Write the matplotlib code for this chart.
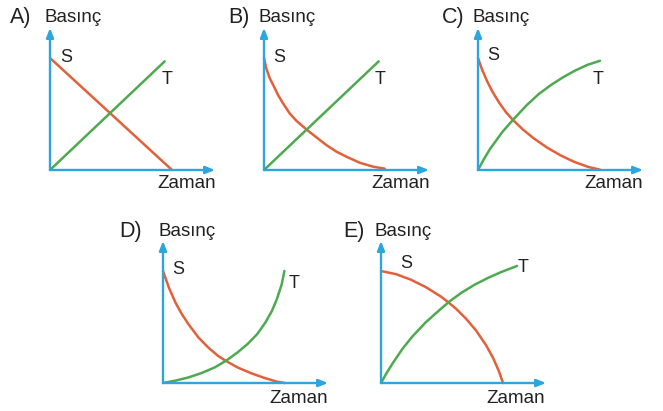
import matplotlib
matplotlib.use("Agg")
import matplotlib.pyplot as plt

plt.rcParams['font.family'] = ['Liberation Sans', 'DejaVu Sans']

# ---- data (time, pressure); unit = end of curves ----
panels = ["A)", "B)", "C)", "D)", "E)"]
y_label = "Basınç"
x_label = "Zaman"
gas_labels = ["S", "T"]

A_S_t = [0.0, 1.0]
A_S_p = [1.0, 0.0]
A_T_t = [0.0, 0.94]
A_T_p = [0.0, 0.97]

B_S_t = [0.0, 0.019, 0.046, 0.074, 0.115, 0.156, 0.210, 0.265, 0.347, 0.429,
         0.511, 0.593, 0.675, 0.784, 0.893, 0.99]
B_S_p = [1.0, 0.908, 0.821, 0.762, 0.670, 0.595, 0.506, 0.440, 0.363, 0.292,
         0.223, 0.164, 0.119, 0.065, 0.030, 0.012]
B_T_t = [0.0, 0.94]
B_T_p = [0.0, 0.97]

C_S_t = [0.0, 0.034, 0.076, 0.118, 0.174, 0.230, 0.286, 0.370, 0.454, 0.566,
         0.678, 0.790, 0.902, 1.0]
C_S_p = [1.0, 0.895, 0.790, 0.700, 0.600, 0.515, 0.447, 0.360, 0.285, 0.200,
         0.130, 0.072, 0.028, 0.003]
C_T_t = [0.0, 0.05, 0.1, 0.2, 0.286, 0.4, 0.5, 0.6, 0.7, 0.8, 0.9, 1.0]
C_T_p = [0.0, 0.10, 0.19, 0.34, 0.447, 0.58, 0.68, 0.76, 0.83, 0.89, 0.94, 0.975]

D_S_t = [0.0, 0.048, 0.102, 0.155, 0.209, 0.290, 0.370, 0.450, 0.517, 0.611,
         0.718, 0.826, 0.933, 1.0]
D_S_p = [1.0, 0.852, 0.718, 0.614, 0.525, 0.407, 0.318, 0.243, 0.196, 0.139,
         0.089, 0.047, 0.012, 0.0]
D_T_t = [0.0, 0.102, 0.209, 0.316, 0.424, 0.517, 0.611, 0.692, 0.772, 0.839,
         0.893, 0.933, 0.973, 0.995]
D_T_p = [0.0, 0.021, 0.050, 0.089, 0.139, 0.199, 0.273, 0.347, 0.436, 0.540,
         0.644, 0.748, 0.881, 1.0]

E_S_t = [0.0, 0.123, 0.246, 0.369, 0.492, 0.549, 0.615, 0.697, 0.779, 0.861,
         0.918, 0.967, 1.0]
E_S_p = [1.0, 0.972, 0.922, 0.855, 0.771, 0.723, 0.663, 0.574, 0.469, 0.338,
         0.225, 0.104, 0.0]
E_T_t = [0.0, 0.041, 0.095, 0.176, 0.257, 0.365, 0.473, 0.555, 0.662, 0.770,
         0.878, 0.986, 1.115]
E_T_p = [0.0, 0.080, 0.175, 0.305, 0.415, 0.540, 0.645, 0.723, 0.808, 0.879,
         0.939, 0.991, 1.045]

S_series = [(A_S_t, A_S_p), (B_S_t, B_S_p), (C_S_t, C_S_p), (D_S_t, D_S_p), (E_S_t, E_S_p)]
T_series = [(A_T_t, A_T_p), (B_T_t, B_T_p), (C_T_t, C_T_p), (D_T_t, D_T_p), (E_T_t, E_T_p)]

# ---- layout (pixels) ----
W, H = 663, 411
origins = [(50, 170), (264, 170), (478, 170), (163, 383), (381, 383)]
ax_w, ax_h = 165, 142
unit_x, unit_y = 122.0, 112.0
# label offsets in pixels relative to origin
letter_off = [(-40, 152), (-36, 152), (-36, 152), (-44, 152), (-38, 152)]
basinc_off = [(-6, 152), (-5, 152), (-5, 152), (-4, 152), (-6, 152)]
S_off = [(16, 113), (15, 113), (15, 114), (15, 114), (25, 120)]
T_off = [(117, 90), (116, 90), (120, 90), (131, 100), (142, 116)]
zaman_off = [(166, -14), (166, -14), (165, -14), (165, -15), (164, -15)]

BLUE = "#2BA6DE"
ORANGE = "#E2603A"
GREEN = "#4DAA50"

fig = plt.figure(figsize=(W / 100, H / 100), dpi=100)
fig.patch.set_facecolor("white")

for i in range(5):
    ox, oy = origins[i]
    ax = fig.add_axes([ox / W, 1 - oy / H, ax_w / W, ax_h / H])
    ax.set_xlim(0, ax_w / unit_x)
    ax.set_ylim(0, ax_h / unit_y)
    ax.axis("off")
    # axes arrows
    for tip in [(1.0, 0), (0, 1.0)]:
        ax.annotate("", xy=tip, xytext=(0, 0), xycoords="axes fraction",
                    arrowprops=dict(arrowstyle="-|>,head_length=0.55,head_width=0.22",
                                    color=BLUE, lw=1.7, shrinkA=0, shrinkB=0))
    st, sp = S_series[i]
    tt, tp = T_series[i]
    ax.plot(st, sp, color=ORANGE, lw=1.8, clip_on=False, solid_capstyle="round",
            solid_joinstyle="round")
    ax.plot(tt, tp, color=GREEN, lw=1.8, clip_on=False, solid_capstyle="round",
            solid_joinstyle="round")

    def lab(txt, off, ha="left", size=13.5):
        ax.annotate(txt, xy=(0, 0), xycoords="axes fraction", xytext=off,
                    textcoords="offset pixels", ha=ha, va="center",
                    fontsize=size, color="#222222", annotation_clip=False)

    lab(panels[i], letter_off[i], size=15.5)
    lab(y_label, basinc_off[i])
    lab(gas_labels[0], S_off[i], ha="center", size=13)
    lab(gas_labels[1], T_off[i], ha="center", size=13)
    lab(x_label, zaman_off[i], ha="right")

fig.savefig("out.png", dpi=100, facecolor="white")
